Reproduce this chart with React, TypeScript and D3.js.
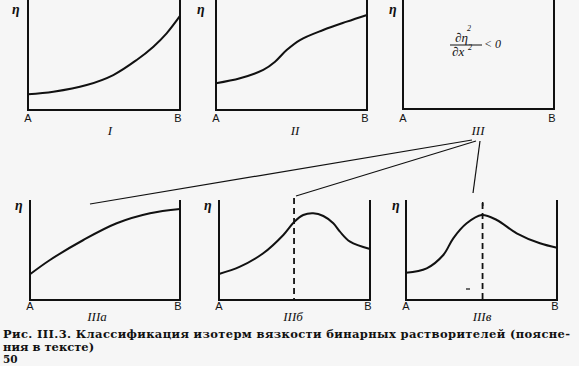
import React from "react";
import * as d3 from "d3";

// curve data: x fraction of composition A→B, eta fraction of panel height
const curveI = [[0, 0.143], [0.167, 0.166], [0.386, 0.227], [0.561, 0.318], [0.715, 0.455], [0.825, 0.576], [0.912, 0.697], [1, 0.855]];
const curveII = [[0, 0.243], [0.159, 0.288], [0.313, 0.364], [0.391, 0.439], [0.468, 0.545], [0.556, 0.636], [0.71, 0.727], [0.866, 0.803], [1, 0.864]];
const curveIIIa = [[0, 0.257], [0.133, 0.4], [0.356, 0.6], [0.578, 0.767], [0.8, 0.867], [1, 0.91]];
const curveIIIb = [[0, 0.26], [0.139, 0.333], [0.293, 0.467], [0.426, 0.65], [0.499, 0.783], [0.558, 0.85], [0.624, 0.867], [0.691, 0.84], [0.757, 0.767], [0.801, 0.683], [0.868, 0.583], [1, 0.51]];
const curveIIIv = [[0, 0.273], [0.137, 0.317], [0.247, 0.45], [0.313, 0.617], [0.402, 0.767], [0.501, 0.85], [0.601, 0.8], [0.733, 0.667], [0.887, 0.567], [1, 0.523]];
const panelLabels = ["I", "II", "", "IIIa", "IIIб", "IIIв"];
const captionLine1 = "Рис. III.3. Классификация изотерм вязкости бинарных растворителей (поясне-";
const captionLine2 = "ния в тексте)";
const pageNumber = "50";

type Panel = { x0: number; x1: number; y0: number; y1: number; data: number[][] | null; label: string; labelX: number; dash?: [number, number, number]; etaX: number };

const panels: Panel[] = [
  { x0: 28, x1: 180, y0: 110, y1: 0, data: curveI, label: panelLabels[0], labelX: 110, etaX: 12 },
  { x0: 216, x1: 367, y0: 110, y1: 0, data: curveII, label: panelLabels[1], labelX: 295, etaX: 197 },
  { x0: 403, x1: 554, y0: 109, y1: 0, data: null, label: panelLabels[2], labelX: 478, etaX: 389 },
  { x0: 30, x1: 180, y0: 300, y1: 200, data: curveIIIa, label: panelLabels[3], labelX: 97, etaX: 15 },
  { x0: 219, x1: 370, y0: 300, y1: 200, data: curveIIIb, label: panelLabels[4], labelX: 293, dash: [0.497, 1.02, 0], etaX: 204 },
  { x0: 406, x1: 557, y0: 300, y1: 200, data: curveIIIv, label: panelLabels[5], labelX: 482, dash: [0.507, 0.97, 0], etaX: 392 },
];

const ink = "#111";
const serif = "'Liberation Serif', 'DejaVu Serif', 'Times New Roman', serif";
const heavySerif = "'DejaVu Serif', 'Liberation Serif', serif";
const sans = "'Liberation Sans', Arial, sans-serif";

export default function App() {
  return (
    <svg width={579} height={366} style={{ position: "absolute", left: 0, top: 0 }}>
      <rect width={579} height={366} fill="#f6f6f6" />
      {panels.map((p, i) => {
        const x = d3.scaleLinear().domain([0, 1]).range([p.x0, p.x1]);
        const y = d3.scaleLinear().domain([0, 1]).range([p.y0, p.y1]);
        const line = d3.line<number[]>().x(d => x(d[0])).y(d => y(d[1])).curve(d3.curveCatmullRom.alpha(0.5));
        const top = p.y1;
        const bottom = p.y0;
        const row = i < 3 ? 0 : 1;
        return (
          <g key={i}>
            <path d={`M${p.x0},${top}V${bottom}H${p.x1}V${top}`} fill="none" stroke={ink} strokeWidth={2} />
            {p.data && <path d={line(p.data) || ""} fill="none" stroke={ink} strokeWidth={2} />}
            {p.dash && (
              <line x1={x(p.dash[0])} x2={x(p.dash[0])} y1={y(p.dash[1])} y2={y(p.dash[2])} stroke={ink} strokeWidth={1.8} strokeDasharray="6,4" />
            )}
            <text x={p.etaX} y={row === 0 ? 14 : 210} fontSize={14} fontStyle="italic" fontWeight="bold" fontFamily={serif} fill={ink}>η</text>
            <text x={p.x0} y={row === 0 ? 122 : 310} fontSize={11} fontFamily={sans} textAnchor="middle" fill={ink}>A</text>
            <text x={p.x1 - 2} y={row === 0 ? 122 : 310} fontSize={11} fontFamily={sans} textAnchor="middle" fill={ink}>B</text>
            {p.label && (
              <text x={p.labelX} y={row === 0 ? 135 : 321} fontSize={13} fontStyle="italic" fontFamily={serif} textAnchor="middle" fill={ink}>{p.label}</text>
            )}
          </g>
        );
      })}
      {/* derivative annotation */}
      <g fill={ink} fontStyle="italic" fontFamily={serif}>
        <text x={467} y={31} fontSize={8}>2</text>
        <text x={455} y={42} fontSize={13}>∂η</text>
        <line x1={450} x2={482} y1={45} y2={45} stroke={ink} strokeWidth={1} />
        <text x={452} y={56} fontSize={13}>∂x</text>
        <text x={468} y={50} fontSize={8}>2</text>
        <text x={484} y={48} fontSize={12}>&lt; 0</text>
      </g>
      <text x={478} y={135} fontSize={13} fontStyle="italic" fontFamily={serif} textAnchor="middle" fill={ink}>III</text>
      <g stroke={ink} strokeWidth={1.2}>
        <line x1={472} y1={140} x2={90} y2={204} />
        <line x1={476} y1={141} x2={296} y2={196} />
        <line x1={480} y1={141} x2={473} y2={193} />
      </g>
      <line x1={482.7} x2={482.7} y1={202} y2={206} stroke={ink} strokeWidth={1.5} />
      <line x1={466} x2={470} y1={289} y2={289} stroke={ink} strokeWidth={1.2} />
      <g fontFamily={heavySerif} fontWeight="bold" fill={ink} fontSize={11.5}>
        <text x={3} y={338} textLength={567} lengthAdjust="spacing">{captionLine1}</text>
        <text x={3} y={351}>{captionLine2}</text>
        <text x={3} y={363} fontSize={10.5}>{pageNumber}</text>
      </g>
    </svg>
  );
}
